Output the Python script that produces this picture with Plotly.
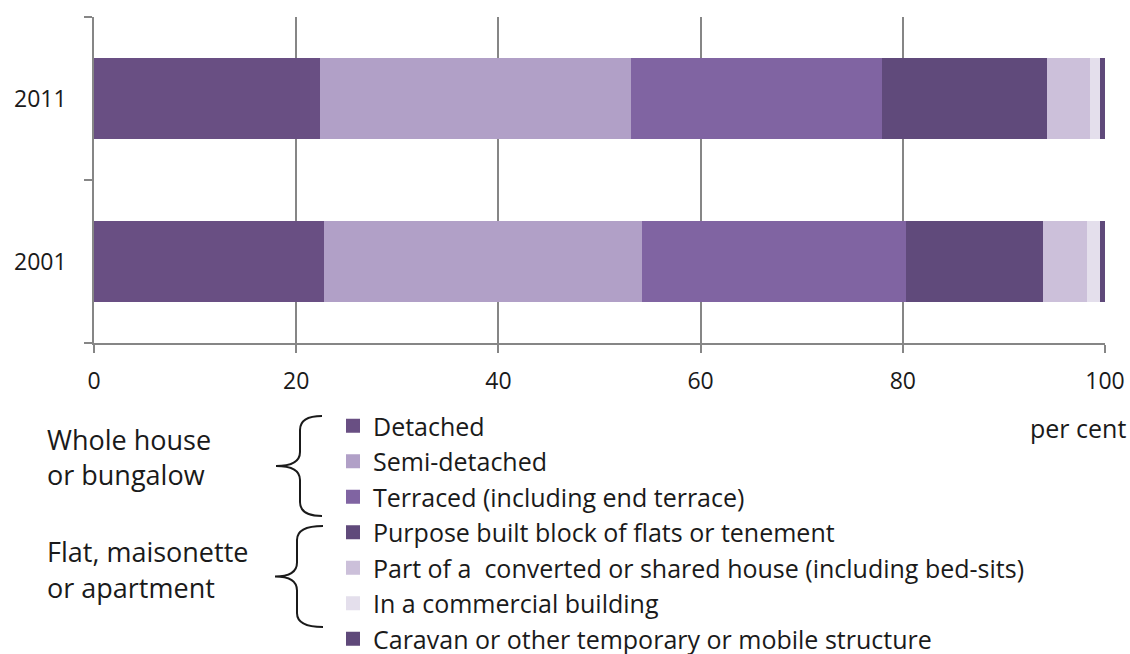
import plotly.graph_objects as go

# Dwelling type shares (per cent)
years = ["2001", "2011"]
detached = [22.8, 22.5]
semi_detached = [31.5, 30.7]
terraced = [26.1, 24.8]
purpose_built = [13.6, 16.4]
converted = [4.3, 4.2]
commercial = [1.3, 1.0]
caravan = [0.4, 0.4]

series_names = [
    "Detached",
    "Semi-detached",
    "Terraced (including end terrace)",
    "Purpose built block of flats or tenement",
    "Part of a  converted or shared house (including bed-sits)",
    "In a commercial building",
    "Caravan or other temporary or mobile structure",
]
series_values = [detached, semi_detached, terraced, purpose_built,
                 converted, commercial, caravan]
series_colors = ["#694f83", "#b1a0c7", "#8064a2", "#604a7b",
                 "#ccc0da", "#e4dfec", "#5f497a"]

group_labels = [["Whole house", "or bungalow"],
                ["Flat, maisonette", "or apartment"]]

FONT = "'Open Sans', Lato, sans-serif"
TXT = "#1a1a1a"
W, H = 1130, 654
L, R, T, B = 94, 1105, 17, 343   # plot area in pixels


def px(x, y):
    """pixel position -> paper coords"""
    return (x - L) / (R - L), (B - y) / (B - T)


def brace(x_end, x_mid, x_tip, y_top, y_bot):
    y_c = (y_top + y_bot) / 2
    pts = [
        ("M", [(x_end, y_top)]),
        ("Q", [(x_mid, y_top), (x_mid, y_top + 14)]),
        ("L", [(x_mid, y_c - 14)]),
        ("Q", [(x_mid, y_c), (x_tip, y_c)]),
        ("Q", [(x_mid, y_c), (x_mid, y_c + 14)]),
        ("L", [(x_mid, y_bot - 14)]),
        ("Q", [(x_mid, y_bot), (x_end, y_bot)]),
    ]
    path = ""
    for cmd, ps in pts:
        path += cmd + " " + " ".join("%.5f,%.5f" % px(*p) for p in ps) + " "
    return path.strip()


fig = go.Figure()
for name, vals, col in zip(series_names, series_values, series_colors):
    # same-colour outline makes the legend swatch a bit bigger, like the original
    fig.add_trace(go.Bar(
        y=years, x=vals, name=name, orientation="h",
        marker=dict(color=col, line=dict(width=2, color=col)),
    ))

# brackets beside the legend
for y_top, y_bot, x_end, x_mid, x_tip in [(416, 516, 322, 300, 276),
                                          (526, 627, 323, 297, 275)]:
    fig.add_shape(type="path", xref="paper", yref="paper",
                  path=brace(x_end, x_mid, x_tip, y_top, y_bot),
                  line=dict(color=TXT, width=2))

annotations = []
for lines, y0 in zip(group_labels, [439, 551]):
    for k, txt in enumerate(lines):
        xp, yp = px(45, y0 + 36 * k)
        annotations.append(dict(x=xp, y=yp, xref="paper", yref="paper",
                                text=txt, showarrow=False, xanchor="left",
                                yanchor="middle",
                                font=dict(size=27, color=TXT, family=FONT)))
xp, yp = px(1128, 428)
annotations.append(dict(x=xp, y=yp, xref="paper", yref="paper", text="per cent",
                        showarrow=False, xanchor="right", yanchor="middle",
                        font=dict(size=25, color=TXT, family=FONT)))

lx, ly = px(333, 403)
fig.update_layout(
    width=W, height=H,
    margin=dict(l=L, r=W - R, t=T, b=H - B, autoexpand=False),
    barmode="stack", bargap=0.51,
    paper_bgcolor="white", plot_bgcolor="white",
    font=dict(family=FONT, size=23, color=TXT),
    showlegend=True,
    legend=dict(x=lx, y=ly, xanchor="left", yanchor="top",
                traceorder="normal",
                font=dict(size=25, color=TXT, family=FONT),
                bgcolor="rgba(0,0,0,0)"),
    annotations=annotations,
    xaxis=dict(range=[0, 100], dtick=20, showgrid=True, gridcolor="#868686",
               gridwidth=1.5, showline=True, linecolor="#868686", linewidth=1.5,
               ticks="outside", ticklen=8, tickcolor="#868686", tickwidth=1.5,
               ticklabelstandoff=9, zeroline=False, fixedrange=True,
               automargin=False),
    yaxis=dict(type="category", showline=True, linecolor="#868686", linewidth=1.5,
               ticks="outside", ticklen=8, tickcolor="#868686", tickwidth=1.5,
               tickson="boundaries", ticklabelstandoff=21, showgrid=False,
               fixedrange=True, automargin=False),
)

# page body has a default 8px margin; drop it so the figure fills the window
fig.write_html("out.html", config={"displayModeBar": False},
               post_script="document.body.style.margin='0';")
